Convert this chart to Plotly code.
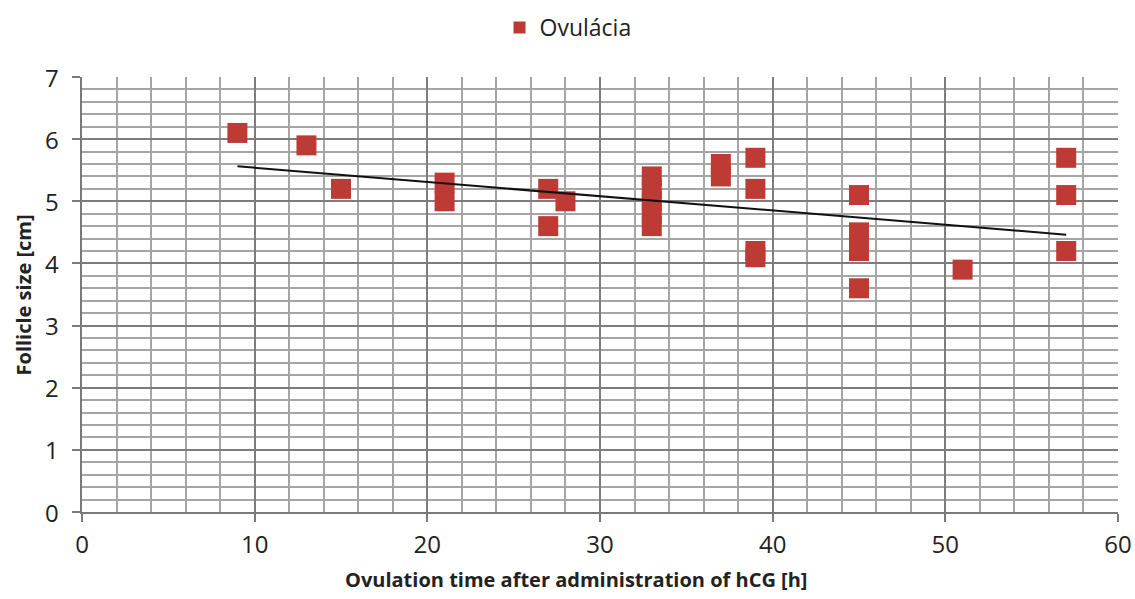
import numpy as np
import plotly.graph_objects as go

# Ovulation time after hCG [h] and follicle size [cm]
hours = [9, 13, 15, 21, 21, 27, 27, 28, 33, 33, 33, 33, 33, 37, 37,
         39, 39, 39, 39, 45, 45, 45, 45, 51, 57, 57, 57]
size_cm = [6.1, 5.9, 5.2, 5.3, 5.0, 5.2, 4.6, 5.0, 5.4, 5.2, 5.0, 4.8, 4.6, 5.6, 5.4,
           5.7, 5.2, 4.2, 4.1, 5.1, 4.5, 4.2, 3.6, 3.9, 5.7, 5.1, 4.2]

series_name = "Ovulácia"
x_title = "Ovulation time after administration of hCG [h]"
y_title = "Follicle size [cm]"
y_ticks = [0, 1, 2, 3, 4, 5, 6, 7]

# Linear trend over the observed range
slope, intercept = np.polyfit(hours, size_cm, 1)
trend_x = [min(hours), max(hours)]
trend_y = [slope * v + intercept for v in trend_x]

font_family = "Open Sans, Noto Sans, sans-serif"
red = "#BD3A35"
text_col = "#222222"

fig = go.Figure()
fig.add_trace(go.Scatter(
    x=hours, y=size_cm, mode="markers", name=series_name,
    marker=dict(symbol="square", size=20, color=red, line=dict(width=0)),
))
fig.add_trace(go.Scatter(
    x=trend_x, y=trend_y, mode="lines", showlegend=False,
    line=dict(color="#111111", width=2), hoverinfo="skip",
))

axis_common = dict(
    showline=True, linecolor="#7a7a7a", linewidth=2,
    gridcolor="#7d7d7d", gridwidth=1.6,
    ticks="outside", ticklen=8, tickcolor="#7a7a7a", tickwidth=2,
    tickfont=dict(family=font_family, size=24, color=text_col),
    zeroline=False, mirror=False, automargin=False,
)

fig.update_xaxes(
    range=[0, 60], tick0=0, dtick=10, ticklabelstandoff=2,
    minor=dict(dtick=2, showgrid=True, gridcolor="#a5a5a5", gridwidth=1.6, ticks=""),
    **axis_common,
)
fig.update_yaxes(
    range=[0, 7], tickvals=y_ticks, showticklabels=False,
    minor=dict(dtick=0.2, showgrid=True, gridcolor="#a5a5a5", gridwidth=1.6, ticks=""),
    **axis_common,
)

# Vertical-axis tick labels, set a little further out from the axis line
for v in y_ticks:
    fig.add_annotation(
        text=str(v), xref="paper", yref="y", x=-0.029, y=v,
        xanchor="center", yanchor="middle", showarrow=False,
        font=dict(family=font_family, size=24, color=text_col),
    )

# Axis titles
fig.add_annotation(
    text=f"<b>{x_title}</b>", xref="paper", yref="paper",
    x=0.477, y=-0.155, xanchor="center", yanchor="middle", showarrow=False,
    font=dict(family=font_family, size=20, color=text_col),
)
fig.add_annotation(
    text=f"<b>{y_title}</b>", xref="paper", yref="paper",
    x=-0.056, y=0.5, xanchor="center", yanchor="middle", showarrow=False,
    textangle=-90, font=dict(family=font_family, size=20, color=text_col),
)

fig.update_layout(
    width=1135, height=599,
    margin=dict(l=82, r=17, t=77, b=87),
    plot_bgcolor="white", paper_bgcolor="white",
    showlegend=True,
    legend=dict(orientation="h", x=0.403, xanchor="left", y=0.99, yanchor="top",
                yref="container", font=dict(family=font_family, size=23, color=text_col),
                itemsizing="constant", itemwidth=30),
)

fig.write_html("out.html")
